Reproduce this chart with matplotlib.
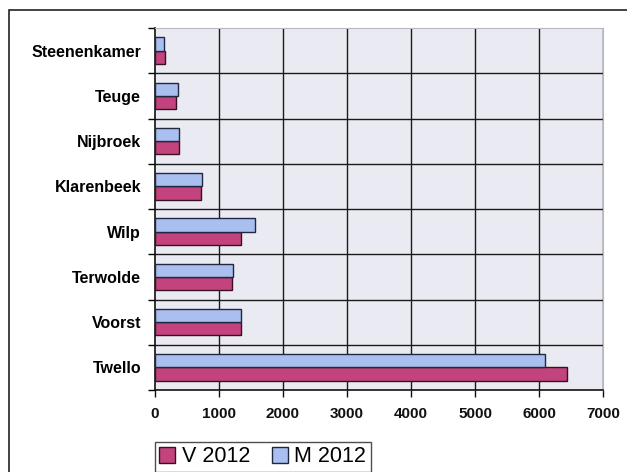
import numpy as np
import matplotlib.pyplot as plt
from matplotlib.patches import Rectangle

plt.rcParams.update({
    "font.family": "Liberation Sans",
})

# categories listed bottom -> top (barh draws index 0 at the bottom)
places = ["Twello", "Voorst", "Terwolde", "Wilp", "Klarenbeek",
          "Nijbroek", "Teuge", "Steenenkamer"]
v2012 = [6440, 1340, 1200, 1350, 725, 370, 325, 155]
m2012 = [6100, 1350, 1215, 1560, 740, 370, 355, 135]
xticks = [0, 1000, 2000, 3000, 4000, 5000, 6000, 7000]

V_COL = "#C2437E"
M_COL = "#A9BFF0"
GRID = "#1a1a1a"

fig = plt.figure(figsize=(6.27, 4.72), dpi=100)
ax = fig.add_axes([155 / 627, 1 - 390 / 472, 448 / 627, 362 / 472])
ax.set_facecolor("#EAEAF2")

y = np.arange(len(places))
h = 0.295
ax.barh(y - h / 2, v2012, height=h, color=V_COL, edgecolor="#3a1020",
        linewidth=1.0, label="V 2012", zorder=3)
ax.barh(y + h / 2, m2012, height=h, color=M_COL, edgecolor="#202840",
        linewidth=1.0, label="M 2012", zorder=3)

ax.set_xlim(0, 7000)
ax.set_ylim(-0.5, len(places) - 0.5)

# gridlines: vertical at value ticks, horizontal at category boundaries
for xv in xticks[1:]:
    ax.axvline(xv, color=GRID, lw=1.0, zorder=1)
for yb in np.arange(0.5, len(places) - 0.5, 1):
    ax.axhline(yb, color=GRID, lw=1.0, zorder=1)

ax.set_xticks(xticks)
ax.set_xticklabels([str(t) for t in xticks], fontweight="bold", fontsize=11)
ax.tick_params(axis="x", direction="out", length=5, width=1, pad=7, colors="#111")

ax.set_yticks(y)
ax.set_yticklabels(places, fontweight="bold", fontsize=11.5)
ax.set_yticks(np.arange(-0.5, len(places), 1), minor=True)
ax.tick_params(axis="y", which="major", length=0, pad=10)
ax.tick_params(axis="y", which="minor", direction="out", length=5, width=1)

for side in ["top", "right"]:
    ax.spines[side].set_color("#b8b8c0")
    ax.spines[side].set_linewidth(0.8)
for side in ["left", "bottom"]:
    ax.spines[side].set_color("#111")
    ax.spines[side].set_linewidth(1.2)

handles, labels = ax.get_legend_handles_labels()
leg = fig.legend(handles, labels, loc="upper left",
                 bbox_to_anchor=(155 / 627, 1 - 442 / 472),
                 ncol=2, fontsize=15.5, frameon=True, fancybox=False,
                 handlelength=0.75, handleheight=0.75, handletextpad=0.3,
                 columnspacing=1.0, borderpad=0.2, borderaxespad=0)
leg.get_frame().set_edgecolor("#222")
leg.get_frame().set_linewidth(1.0)

# outer chart border
fig.patches.append(Rectangle((9 / 627, -0.05), 1.0, 1 - 10 / 472 + 0.05,
                             transform=fig.transFigure, fill=False,
                             edgecolor="#222", linewidth=1.2))

fig.savefig("out.png", dpi=100)
